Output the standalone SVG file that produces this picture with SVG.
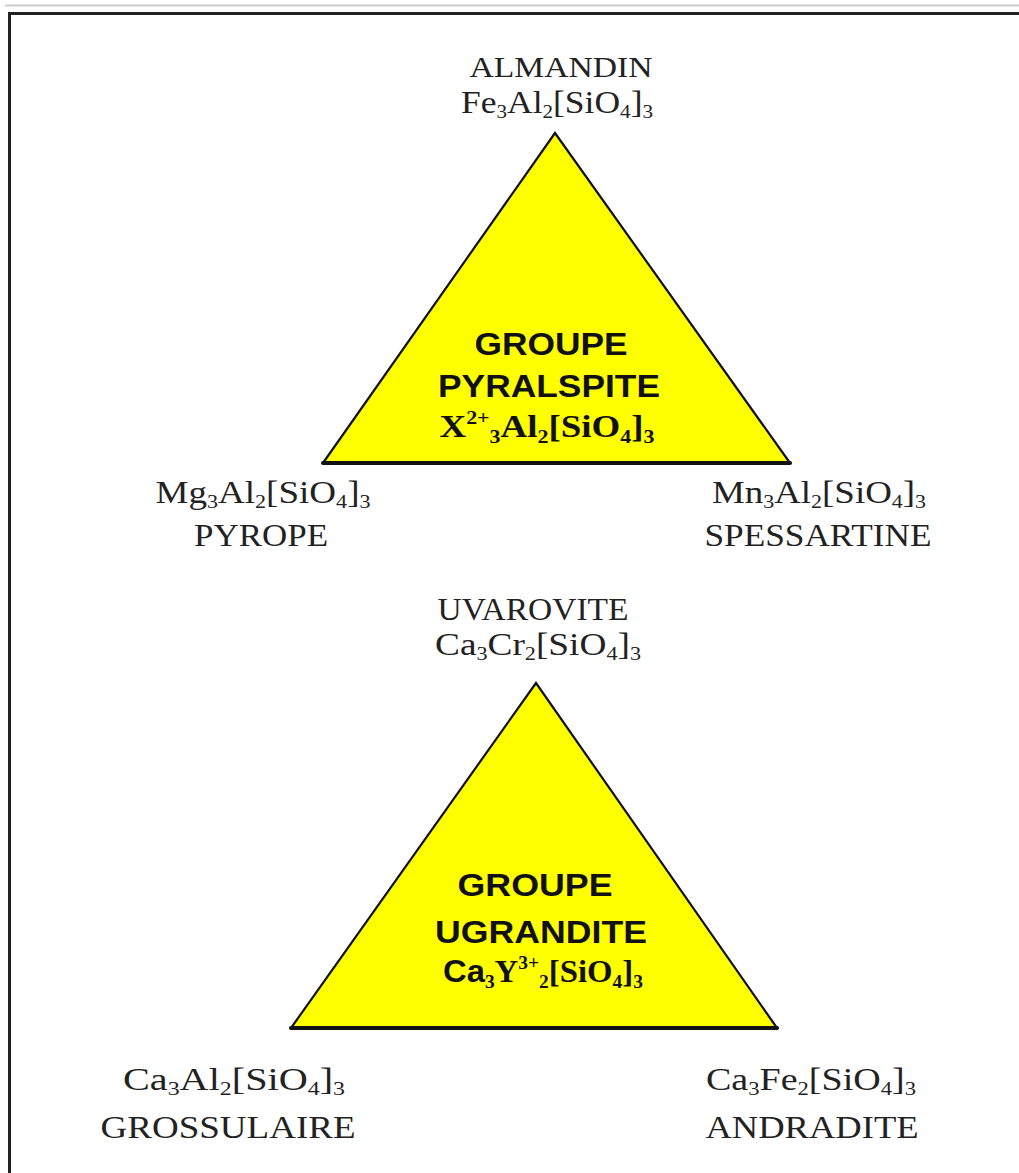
<svg xmlns="http://www.w3.org/2000/svg" width="1019" height="1173" viewBox="0 0 1019 1173">
<style>
.lbl{font-family:"Liberation Serif","Times New Roman",serif;font-size:32px;fill:#222;text-anchor:middle}
.f{font-family:"Liberation Serif","Times New Roman",serif;font-size:32px;fill:#222;text-anchor:middle}
.grp{font-family:"Liberation Sans",Arial,sans-serif;font-weight:bold;font-size:32px;fill:#111;text-anchor:middle}
.fb{font-family:"Liberation Serif","Times New Roman",serif;font-weight:bold;font-size:32px;fill:#111;text-anchor:middle}
.s{font-size:19px}
.tri{fill:#ffff00;stroke:#111;stroke-width:2.2}
.base{stroke:#111;stroke-width:4;stroke-linecap:round}
</style>
<rect width="1019" height="1173" fill="#fff"/>
<g id="frame">
<line x1="5" y1="5.5" x2="1019" y2="5.5" stroke="#ccc" stroke-width="2"/>
<path d="M9.5,1173 V13.5 H1019" fill="none" stroke="#222" stroke-width="3"/>
</g>
<g id="pyralspite">
<polygon class="tri" points="555,133 323,463 790,463"/>
<line class="base" x1="323" y1="463" x2="790" y2="463"/>
<text class="grp" x="551" y="355" textLength="153" lengthAdjust="spacingAndGlyphs">GROUPE</text>
<text class="grp" x="549" y="397" textLength="222" lengthAdjust="spacingAndGlyphs">PYRALSPITE</text>
<text class="fb" x="547" y="437" textLength="215" lengthAdjust="spacingAndGlyphs">X<tspan class="s" dy="-13">2+</tspan><tspan class="s" dy="19">3</tspan><tspan dy="-6">Al</tspan><tspan class="s" dy="6">2</tspan><tspan dy="-6">[SiO</tspan><tspan class="s" dy="6">4</tspan><tspan dy="-6">]</tspan><tspan class="s" dy="6">3</tspan></text>
</g>
<g id="almandin">
<text class="lbl" x="561" y="77" font-size="30" textLength="183" lengthAdjust="spacingAndGlyphs" style="font-size:30px">ALMANDIN</text>
<text class="f" x="557" y="113" textLength="192" lengthAdjust="spacingAndGlyphs">Fe<tspan class="s" dy="5">3</tspan><tspan dy="-5">Al</tspan><tspan class="s" dy="5">2</tspan><tspan dy="-5">[SiO</tspan><tspan class="s" dy="5">4</tspan><tspan dy="-5">]</tspan><tspan class="s" dy="5">3</tspan></text>
</g>
<g id="pyrope">
<text class="f" x="263" y="503" textLength="215" lengthAdjust="spacingAndGlyphs">Mg<tspan class="s" dy="5">3</tspan><tspan dy="-5">Al</tspan><tspan class="s" dy="5">2</tspan><tspan dy="-5">[SiO</tspan><tspan class="s" dy="5">4</tspan><tspan dy="-5">]</tspan><tspan class="s" dy="5">3</tspan></text>
<text class="lbl" x="261" y="546" textLength="134" lengthAdjust="spacingAndGlyphs">PYROPE</text>
</g>
<g id="spessartine">
<text class="f" x="819" y="503" textLength="214" lengthAdjust="spacingAndGlyphs">Mn<tspan class="s" dy="5">3</tspan><tspan dy="-5">Al</tspan><tspan class="s" dy="5">2</tspan><tspan dy="-5">[SiO</tspan><tspan class="s" dy="5">4</tspan><tspan dy="-5">]</tspan><tspan class="s" dy="5">3</tspan></text>
<text class="lbl" x="818" y="546" textLength="227" lengthAdjust="spacingAndGlyphs">SPESSARTINE</text>
</g>
<g id="ugrandite">
<polygon class="tri" points="536,683 291,1028 777,1028"/>
<line class="base" x1="291" y1="1028" x2="777" y2="1028"/>
<text class="grp" x="535" y="896" textLength="155" lengthAdjust="spacingAndGlyphs">GROUPE</text>
<text class="grp" x="541" y="943" textLength="212" lengthAdjust="spacingAndGlyphs">UGRANDITE</text>
<text class="fb" x="543" y="982" textLength="200" lengthAdjust="spacingAndGlyphs"><tspan font-family="Liberation Sans,Arial,sans-serif">Ca</tspan><tspan class="s" dy="6">3</tspan><tspan dy="-6">Y</tspan><tspan class="s" dy="-13">3+</tspan><tspan class="s" dy="19">2</tspan><tspan dy="-6">[SiO</tspan><tspan class="s" dy="6">4</tspan><tspan dy="-6">]</tspan><tspan class="s" dy="6">3</tspan></text>
</g>
<g id="uvarovite">
<text class="lbl" x="533" y="620" textLength="191" lengthAdjust="spacingAndGlyphs">UVAROVITE</text>
<text class="f" x="538" y="655" textLength="206" lengthAdjust="spacingAndGlyphs">Ca<tspan class="s" dy="5">3</tspan><tspan dy="-5">Cr</tspan><tspan class="s" dy="5">2</tspan><tspan dy="-5">[SiO</tspan><tspan class="s" dy="5">4</tspan><tspan dy="-5">]</tspan><tspan class="s" dy="5">3</tspan></text>
</g>
<g id="grossulaire">
<text class="f" x="234" y="1090" textLength="222" lengthAdjust="spacingAndGlyphs">Ca<tspan class="s" dy="5">3</tspan><tspan dy="-5">Al</tspan><tspan class="s" dy="5">2</tspan><tspan dy="-5">[SiO</tspan><tspan class="s" dy="5">4</tspan><tspan dy="-5">]</tspan><tspan class="s" dy="5">3</tspan></text>
<text class="lbl" x="228" y="1138" textLength="255" lengthAdjust="spacingAndGlyphs">GROSSULAIRE</text>
</g>
<g id="andradite">
<text class="f" x="811" y="1090" textLength="210" lengthAdjust="spacingAndGlyphs">Ca<tspan class="s" dy="5">3</tspan><tspan dy="-5">Fe</tspan><tspan class="s" dy="5">2</tspan><tspan dy="-5">[SiO</tspan><tspan class="s" dy="5">4</tspan><tspan dy="-5">]</tspan><tspan class="s" dy="5">3</tspan></text>
<text class="lbl" x="812" y="1138" textLength="213" lengthAdjust="spacingAndGlyphs">ANDRADITE</text>
</g>
<g id="connectors"></g>
</svg>
